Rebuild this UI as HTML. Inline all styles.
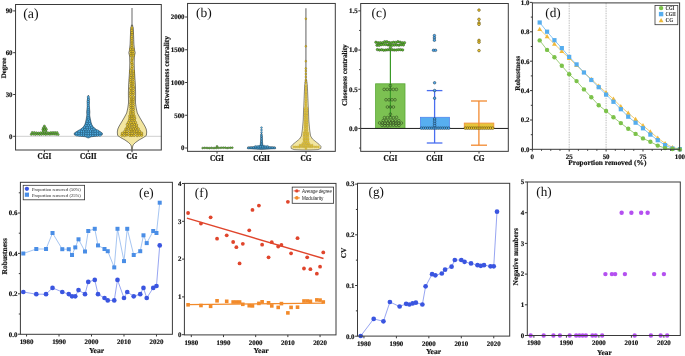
<!DOCTYPE html>
<html><head><meta charset="utf-8"><style>
html,body{margin:0;padding:0;background:#fff;}
body{width:685px;height:356px;overflow:hidden;font-family:"Liberation Serif",serif;}
svg{display:block;}
</style></head><body>
<div style="will-change:transform"><svg xmlns="http://www.w3.org/2000/svg" width="685" height="356" viewBox="0 0 685 356" font-family="Liberation Serif">
<rect width="685" height="356" fill="#fff"/>
<line x1="15.55" y1="136.30" x2="161.30" y2="136.30" stroke="#cfcfcf" stroke-width="1.0" />
<g fill="#6cc83c" stroke="#1a2a10" stroke-width="0.38"><circle cx="31.20" cy="134.33" r="1.05"/><circle cx="33.28" cy="134.26" r="1.05"/><circle cx="35.36" cy="134.46" r="1.05"/><circle cx="37.44" cy="134.23" r="1.05"/><circle cx="39.52" cy="134.41" r="1.05"/><circle cx="41.60" cy="134.35" r="1.05"/><circle cx="43.68" cy="134.22" r="1.05"/><circle cx="45.76" cy="134.40" r="1.05"/><circle cx="47.84" cy="134.21" r="1.05"/><circle cx="49.92" cy="134.37" r="1.05"/><circle cx="52.00" cy="134.23" r="1.05"/><circle cx="54.08" cy="134.24" r="1.05"/><circle cx="56.16" cy="134.37" r="1.05"/><circle cx="58.24" cy="134.53" r="1.05"/><circle cx="32.20" cy="132.47" r="1.05"/><circle cx="34.28" cy="132.53" r="1.05"/><circle cx="36.36" cy="132.78" r="1.05"/><circle cx="38.44" cy="132.97" r="1.05"/><circle cx="40.52" cy="132.75" r="1.05"/><circle cx="42.60" cy="132.64" r="1.05"/><circle cx="44.68" cy="132.99" r="1.05"/><circle cx="46.76" cy="132.43" r="1.05"/><circle cx="48.84" cy="132.92" r="1.05"/><circle cx="50.92" cy="132.57" r="1.05"/><circle cx="53.00" cy="132.49" r="1.05"/><circle cx="55.08" cy="132.47" r="1.05"/><circle cx="57.16" cy="132.59" r="1.05"/><circle cx="44.40" cy="126.00" r="1.05"/><circle cx="43.40" cy="127.70" r="1.05"/><circle cx="45.40" cy="127.70" r="1.05"/><circle cx="42.80" cy="129.40" r="1.05"/><circle cx="44.60" cy="129.40" r="1.05"/><circle cx="46.40" cy="129.40" r="1.05"/><circle cx="43.20" cy="131.00" r="1.05"/><circle cx="45.60" cy="131.00" r="1.05"/></g>
<path d="M88.60,95.50 L88.80,97.00 L89.20,99.00 L89.40,102.00 L89.20,105.00 L89.60,109.00 L89.90,112.00 L89.70,115.00 L90.40,119.00 L91.00,122.00 L91.80,124.50 L92.80,126.30 L94.30,128.00 L96.90,129.80 L100.10,131.50 L102.50,133.20 L102.20,135.00 L97.30,136.00 L91.30,136.80 L88.60,138.00 L88.00,138.00 L85.30,136.80 L79.30,136.00 L74.40,135.00 L74.10,133.20 L76.50,131.50 L79.70,129.80 L82.30,128.00 L83.80,126.30 L84.80,124.50 L85.60,122.00 L86.20,119.00 L86.90,115.00 L86.70,112.00 L87.00,109.00 L87.40,105.00 L87.20,102.00 L87.40,99.00 L87.80,97.00 L88.00,95.50 Z" fill="#3c94c8" stroke="#13202a" stroke-width="0.45" stroke-linejoin="round"/>
<g fill="#56b8f0" stroke="#0c2536" stroke-width="0.32"><circle cx="76.93" cy="135.07" r="1.15"/><circle cx="79.13" cy="135.26" r="1.15"/><circle cx="81.35" cy="135.22" r="1.15"/><circle cx="83.53" cy="135.02" r="1.15"/><circle cx="85.88" cy="135.27" r="1.15"/><circle cx="88.27" cy="135.13" r="1.15"/><circle cx="90.63" cy="135.18" r="1.15"/><circle cx="92.82" cy="135.32" r="1.15"/><circle cx="95.28" cy="135.10" r="1.15"/><circle cx="97.53" cy="135.21" r="1.15"/><circle cx="99.95" cy="135.29" r="1.15"/><circle cx="76.72" cy="133.39" r="1.15"/><circle cx="78.95" cy="133.17" r="1.15"/><circle cx="81.50" cy="133.06" r="1.15"/><circle cx="83.70" cy="133.02" r="1.15"/><circle cx="86.07" cy="133.31" r="1.15"/><circle cx="88.33" cy="133.35" r="1.15"/><circle cx="90.53" cy="133.28" r="1.15"/><circle cx="92.94" cy="133.23" r="1.15"/><circle cx="95.18" cy="133.34" r="1.15"/><circle cx="97.68" cy="133.19" r="1.15"/><circle cx="99.87" cy="133.02" r="1.15"/><circle cx="79.18" cy="131.26" r="1.15"/><circle cx="81.60" cy="131.33" r="1.15"/><circle cx="83.61" cy="131.15" r="1.15"/><circle cx="86.07" cy="131.01" r="1.15"/><circle cx="88.28" cy="131.07" r="1.15"/><circle cx="90.45" cy="131.02" r="1.15"/><circle cx="93.01" cy="131.05" r="1.15"/><circle cx="95.10" cy="131.16" r="1.15"/><circle cx="97.65" cy="131.03" r="1.15"/><circle cx="82.53" cy="129.22" r="1.15"/><circle cx="85.00" cy="129.33" r="1.15"/><circle cx="87.30" cy="129.11" r="1.15"/><circle cx="89.42" cy="129.14" r="1.15"/><circle cx="91.90" cy="129.38" r="1.15"/><circle cx="93.91" cy="129.07" r="1.15"/><circle cx="84.74" cy="127.09" r="1.15"/><circle cx="87.14" cy="127.24" r="1.15"/><circle cx="89.36" cy="127.00" r="1.15"/><circle cx="91.72" cy="127.15" r="1.15"/><circle cx="86.03" cy="125.38" r="1.15"/><circle cx="88.38" cy="125.21" r="1.15"/><circle cx="90.65" cy="125.27" r="1.15"/><circle cx="86.97" cy="123.36" r="1.15"/><circle cx="89.56" cy="123.35" r="1.15"/><circle cx="87.27" cy="121.16" r="1.15"/><circle cx="89.41" cy="121.04" r="1.15"/><circle cx="88.35" cy="119.02" r="1.15"/><circle cx="88.13" cy="117.08" r="1.15"/><circle cx="88.16" cy="115.14" r="1.15"/><circle cx="88.12" cy="113.00" r="1.15"/><circle cx="88.16" cy="111.04" r="1.15"/><circle cx="88.25" cy="109.01" r="1.15"/><circle cx="88.45" cy="107.25" r="1.15"/><circle cx="88.16" cy="105.10" r="1.15"/><circle cx="88.24" cy="103.15" r="1.15"/><circle cx="88.15" cy="101.34" r="1.15"/><circle cx="88.50" cy="99.19" r="1.15"/><circle cx="88.29" cy="97.03" r="1.15"/></g>
<line x1="132.00" y1="8.00" x2="132.00" y2="26.00" stroke="#8a8a8a" stroke-width="1.3" />
<path d="M132.50,25.00 L133.30,29.00 L133.60,36.00 L133.90,44.00 L134.50,50.00 L135.20,52.80 L134.40,56.00 L134.20,63.00 L134.40,70.00 L134.90,78.00 L135.40,85.00 L135.60,93.00 L135.50,103.00 L136.20,108.00 L137.30,113.00 L140.00,118.00 L143.00,123.00 L144.80,126.00 L146.20,129.00 L146.70,132.00 L146.40,135.40 L143.50,137.50 L139.00,140.00 L135.50,142.50 L133.50,144.50 L132.70,146.00 L132.35,149.50 L131.65,149.50 L131.30,146.00 L130.50,144.50 L128.50,142.50 L125.00,140.00 L120.50,137.50 L117.60,135.40 L117.30,132.00 L117.80,129.00 L119.20,126.00 L121.00,123.00 L124.00,118.00 L126.70,113.00 L127.80,108.00 L128.50,103.00 L128.40,93.00 L128.60,85.00 L129.10,78.00 L129.60,70.00 L129.80,63.00 L129.60,56.00 L128.80,52.80 L129.50,50.00 L130.10,44.00 L130.40,36.00 L130.70,29.00 L131.50,25.00 Z" fill="#f3e6a0" stroke="#2a2a2a" stroke-width="0.6" stroke-linejoin="round"/>
<g fill="#e8c830" stroke="#3a3005" stroke-width="0.34"><circle cx="121.96" cy="135.31" r="1.2"/><circle cx="124.51" cy="135.60" r="1.2"/><circle cx="126.90" cy="135.11" r="1.2"/><circle cx="129.82" cy="135.42" r="1.2"/><circle cx="131.79" cy="135.43" r="1.2"/><circle cx="134.17" cy="135.42" r="1.2"/><circle cx="137.19" cy="135.62" r="1.2"/><circle cx="139.47" cy="135.26" r="1.2"/><circle cx="141.72" cy="135.20" r="1.2"/><circle cx="122.36" cy="133.27" r="1.2"/><circle cx="124.82" cy="133.15" r="1.2"/><circle cx="126.93" cy="133.44" r="1.2"/><circle cx="129.84" cy="133.46" r="1.2"/><circle cx="132.18" cy="133.44" r="1.2"/><circle cx="134.59" cy="133.09" r="1.2"/><circle cx="136.91" cy="133.16" r="1.2"/><circle cx="139.07" cy="132.97" r="1.2"/><circle cx="141.67" cy="133.11" r="1.2"/><circle cx="124.77" cy="131.37" r="1.2"/><circle cx="127.07" cy="131.36" r="1.2"/><circle cx="129.84" cy="131.37" r="1.2"/><circle cx="131.92" cy="130.93" r="1.2"/><circle cx="134.29" cy="130.92" r="1.2"/><circle cx="136.72" cy="131.17" r="1.2"/><circle cx="139.59" cy="131.30" r="1.2"/><circle cx="125.86" cy="129.04" r="1.2"/><circle cx="128.50" cy="128.70" r="1.2"/><circle cx="130.87" cy="129.20" r="1.2"/><circle cx="133.39" cy="129.10" r="1.2"/><circle cx="135.66" cy="128.76" r="1.2"/><circle cx="138.30" cy="128.85" r="1.2"/><circle cx="127.28" cy="127.08" r="1.2"/><circle cx="129.49" cy="126.74" r="1.2"/><circle cx="132.27" cy="126.93" r="1.2"/><circle cx="134.25" cy="126.58" r="1.2"/><circle cx="136.69" cy="127.04" r="1.2"/><circle cx="127.28" cy="124.44" r="1.2"/><circle cx="129.75" cy="124.94" r="1.2"/><circle cx="132.09" cy="124.56" r="1.2"/><circle cx="134.48" cy="124.43" r="1.2"/><circle cx="136.61" cy="124.93" r="1.2"/><circle cx="128.41" cy="122.52" r="1.2"/><circle cx="131.04" cy="122.46" r="1.2"/><circle cx="133.45" cy="122.70" r="1.2"/><circle cx="135.50" cy="122.35" r="1.2"/><circle cx="129.43" cy="120.19" r="1.2"/><circle cx="132.05" cy="120.21" r="1.2"/><circle cx="134.40" cy="120.13" r="1.2"/><circle cx="129.80" cy="118.11" r="1.2"/><circle cx="131.97" cy="118.25" r="1.2"/><circle cx="134.69" cy="118.15" r="1.2"/><circle cx="129.80" cy="116.05" r="1.2"/><circle cx="132.02" cy="116.06" r="1.2"/><circle cx="134.16" cy="116.01" r="1.2"/><circle cx="130.58" cy="113.60" r="1.2"/><circle cx="133.40" cy="113.70" r="1.2"/><circle cx="130.76" cy="111.89" r="1.2"/><circle cx="133.26" cy="111.65" r="1.2"/><circle cx="130.79" cy="109.63" r="1.2"/><circle cx="133.40" cy="109.36" r="1.2"/><circle cx="130.81" cy="107.30" r="1.2"/><circle cx="133.09" cy="107.61" r="1.2"/><circle cx="130.78" cy="105.34" r="1.2"/><circle cx="133.38" cy="105.55" r="1.2"/><circle cx="130.74" cy="103.22" r="1.2"/><circle cx="133.23" cy="103.16" r="1.2"/><circle cx="130.89" cy="100.97" r="1.2"/><circle cx="133.24" cy="100.99" r="1.2"/><circle cx="131.04" cy="98.97" r="1.2"/><circle cx="133.45" cy="99.12" r="1.2"/><circle cx="130.63" cy="96.74" r="1.2"/><circle cx="133.49" cy="96.90" r="1.2"/><circle cx="130.56" cy="94.32" r="1.2"/><circle cx="133.19" cy="94.29" r="1.2"/><circle cx="130.62" cy="92.14" r="1.2"/><circle cx="133.33" cy="92.57" r="1.2"/><circle cx="131.01" cy="90.04" r="1.2"/><circle cx="133.35" cy="90.35" r="1.2"/><circle cx="130.56" cy="88.33" r="1.2"/><circle cx="133.51" cy="87.93" r="1.2"/><circle cx="131.05" cy="85.89" r="1.2"/><circle cx="133.22" cy="86.24" r="1.2"/><circle cx="130.97" cy="83.60" r="1.2"/><circle cx="133.18" cy="83.81" r="1.2"/><circle cx="130.68" cy="81.47" r="1.2"/><circle cx="133.12" cy="81.78" r="1.2"/><circle cx="130.49" cy="79.53" r="1.2"/><circle cx="133.19" cy="79.21" r="1.2"/><circle cx="130.67" cy="77.42" r="1.2"/><circle cx="133.23" cy="77.09" r="1.2"/><circle cx="131.07" cy="75.37" r="1.2"/><circle cx="133.51" cy="74.96" r="1.2"/><circle cx="130.63" cy="72.77" r="1.2"/><circle cx="133.39" cy="72.91" r="1.2"/><circle cx="130.55" cy="70.85" r="1.2"/><circle cx="133.47" cy="71.09" r="1.2"/><circle cx="131.86" cy="68.54" r="1.2"/><circle cx="132.25" cy="66.64" r="1.2"/><circle cx="132.12" cy="64.20" r="1.2"/><circle cx="131.73" cy="62.41" r="1.2"/><circle cx="131.96" cy="59.89" r="1.2"/><circle cx="132.26" cy="58.08" r="1.2"/><circle cx="130.96" cy="55.60" r="1.2"/><circle cx="133.44" cy="55.59" r="1.2"/><circle cx="130.99" cy="53.67" r="1.2"/><circle cx="133.13" cy="53.73" r="1.2"/><circle cx="131.03" cy="51.41" r="1.2"/><circle cx="133.00" cy="51.57" r="1.2"/><circle cx="130.62" cy="49.17" r="1.2"/><circle cx="133.02" cy="49.13" r="1.2"/><circle cx="131.82" cy="47.14" r="1.2"/><circle cx="131.88" cy="45.26" r="1.2"/><circle cx="131.87" cy="42.95" r="1.2"/><circle cx="131.81" cy="40.71" r="1.2"/><circle cx="131.71" cy="38.50" r="1.2"/><circle cx="131.71" cy="36.64" r="1.2"/><circle cx="132.03" cy="34.16" r="1.2"/><circle cx="131.98" cy="32.46" r="1.2"/><circle cx="131.76" cy="30.24" r="1.2"/><circle cx="131.96" cy="27.90" r="1.2"/></g>
<rect x="15.55" y="4.50" width="145.75" height="145.50" fill="none" stroke="#3a3a3a" stroke-width="1.0"/>
<line x1="13.15" y1="136.30" x2="15.55" y2="136.30" stroke="#3a3a3a" stroke-width="1.0" />
<text x="12.55" y="138.65" font-size="6.9" text-anchor="end" font-weight="bold" fill="#111" stroke="#111" stroke-width="0.18" text-rendering="geometricPrecision">0</text>
<line x1="13.15" y1="94.50" x2="15.55" y2="94.50" stroke="#3a3a3a" stroke-width="1.0" />
<text x="12.55" y="96.85" font-size="6.9" text-anchor="end" font-weight="bold" fill="#111" stroke="#111" stroke-width="0.18" text-rendering="geometricPrecision">30</text>
<line x1="13.15" y1="52.70" x2="15.55" y2="52.70" stroke="#3a3a3a" stroke-width="1.0" />
<text x="12.55" y="55.05" font-size="6.9" text-anchor="end" font-weight="bold" fill="#111" stroke="#111" stroke-width="0.18" text-rendering="geometricPrecision">60</text>
<line x1="13.15" y1="10.90" x2="15.55" y2="10.90" stroke="#3a3a3a" stroke-width="1.0" />
<text x="12.55" y="13.25" font-size="6.9" text-anchor="end" font-weight="bold" fill="#111" stroke="#111" stroke-width="0.18" text-rendering="geometricPrecision">90</text>
<line x1="44.40" y1="150.00" x2="44.40" y2="152.20" stroke="#3a3a3a" stroke-width="1.0" />
<text x="44.40" y="159.00" font-size="7.21" text-anchor="middle" font-weight="bold" fill="#111" textLength="13.60" lengthAdjust="spacingAndGlyphs" stroke="#111" stroke-width="0.22">CGI</text>
<line x1="88.30" y1="150.00" x2="88.30" y2="152.20" stroke="#3a3a3a" stroke-width="1.0" />
<text x="88.30" y="159.00" font-size="7.21" text-anchor="middle" font-weight="bold" fill="#111" textLength="16.40" lengthAdjust="spacingAndGlyphs" stroke="#111" stroke-width="0.22">CGII</text>
<line x1="132.00" y1="150.00" x2="132.00" y2="152.20" stroke="#3a3a3a" stroke-width="1.0" />
<text x="132.00" y="159.00" font-size="7.21" text-anchor="middle" font-weight="bold" fill="#111" textLength="10.80" lengthAdjust="spacingAndGlyphs" stroke="#111" stroke-width="0.22">CG</text>
<text x="0" y="0" transform="translate(5.60,68.00) rotate(-90)" font-size="6.9" text-anchor="middle" font-weight="bold" fill="#111" stroke="#111" stroke-width="0.18" text-rendering="geometricPrecision">Degree</text>
<text x="23.20" y="18.10" font-size="13.9" text-anchor="start" font-weight="normal" fill="#111" text-rendering="geometricPrecision"  >(a)</text>
<g fill="#6cc83c" stroke="#1a2a10" stroke-width="0.4"><circle cx="202.60" cy="148.07" r="0.9"/><circle cx="204.35" cy="147.85" r="0.9"/><circle cx="206.10" cy="147.90" r="0.9"/><circle cx="207.85" cy="147.99" r="0.9"/><circle cx="209.60" cy="148.14" r="0.9"/><circle cx="211.35" cy="147.82" r="0.9"/><circle cx="213.10" cy="148.07" r="0.9"/><circle cx="214.85" cy="148.00" r="0.9"/><circle cx="216.60" cy="147.97" r="0.9"/><circle cx="218.35" cy="147.85" r="0.9"/><circle cx="220.10" cy="147.82" r="0.9"/><circle cx="221.85" cy="147.68" r="0.9"/><circle cx="223.60" cy="147.71" r="0.9"/><circle cx="225.35" cy="147.69" r="0.9"/><circle cx="227.10" cy="148.02" r="0.9"/><circle cx="228.85" cy="147.78" r="0.9"/><circle cx="230.60" cy="147.73" r="0.9"/><circle cx="232.35" cy="147.69" r="0.9"/><circle cx="217.00" cy="146.30" r="0.9"/></g>
<path d="M262.00,133.50 L262.30,136.00 L262.40,140.00 L262.60,143.00 L263.00,145.60 L265.50,146.50 L275.30,146.90 L275.70,148.70 L266.50,149.20 L261.90,149.50 L261.10,149.50 L256.50,149.20 L247.30,148.70 L247.70,146.90 L257.50,146.50 L260.00,145.60 L260.40,143.00 L260.60,140.00 L260.70,136.00 L261.00,133.50 Z" fill="#2f7fae" stroke="#13202a" stroke-width="0.4" stroke-linejoin="round"/>
<g fill="#56b8f0" stroke="#0c2536" stroke-width="0.3"><circle cx="248.48" cy="147.91" r="0.85"/><circle cx="250.18" cy="147.73" r="0.85"/><circle cx="251.80" cy="147.74" r="0.85"/><circle cx="253.61" cy="147.70" r="0.85"/><circle cx="255.36" cy="147.73" r="0.85"/><circle cx="257.26" cy="147.94" r="0.85"/><circle cx="258.89" cy="147.72" r="0.85"/><circle cx="260.76" cy="147.74" r="0.85"/><circle cx="262.33" cy="147.65" r="0.85"/><circle cx="264.09" cy="147.79" r="0.85"/><circle cx="265.88" cy="147.71" r="0.85"/><circle cx="267.63" cy="147.65" r="0.85"/><circle cx="269.30" cy="147.68" r="0.85"/><circle cx="271.09" cy="147.66" r="0.85"/><circle cx="272.73" cy="147.74" r="0.85"/><circle cx="274.54" cy="147.83" r="0.85"/><circle cx="255.38" cy="146.28" r="0.85"/><circle cx="257.17" cy="146.26" r="0.85"/><circle cx="258.99" cy="146.17" r="0.85"/><circle cx="260.57" cy="146.35" r="0.85"/><circle cx="262.27" cy="146.27" r="0.85"/><circle cx="264.17" cy="146.06" r="0.85"/><circle cx="265.98" cy="146.32" r="0.85"/><circle cx="267.66" cy="146.27" r="0.85"/><circle cx="261.59" cy="144.49" r="0.85"/><circle cx="261.51" cy="143.00" r="0.85"/><circle cx="261.60" cy="141.49" r="0.85"/><circle cx="261.60" cy="139.83" r="0.85"/><circle cx="261.62" cy="138.25" r="0.85"/><circle cx="261.56" cy="136.52" r="0.85"/><circle cx="261.36" cy="134.89" r="0.85"/></g>
<circle cx="261.5" cy="127.6" r="0.9" fill="#56b8f0" stroke="#0c2536" stroke-width="0.35"/>
<circle cx="261.5" cy="130.0" r="0.9" fill="#56b8f0" stroke="#0c2536" stroke-width="0.35"/>
<circle cx="261.5" cy="132.3" r="0.9" fill="#56b8f0" stroke="#0c2536" stroke-width="0.35"/>
<line x1="305.90" y1="8.30" x2="305.90" y2="81.00" stroke="#8e8e8e" stroke-width="1.4" />
<path d="M306.60,80.00 L307.30,85.00 L308.00,100.00 L308.50,112.00 L308.80,120.00 L309.70,130.00 L310.60,136.00 L312.50,139.00 L316.20,142.00 L319.30,144.50 L321.00,146.50 L320.80,148.50 L318.00,149.60 L310.00,150.00 L302.00,150.00 L294.00,149.60 L291.20,148.50 L291.00,146.50 L292.70,144.50 L295.80,142.00 L299.50,139.00 L301.40,136.00 L302.30,130.00 L303.20,120.00 L303.50,112.00 L304.00,100.00 L304.70,85.00 L305.40,80.00 Z" fill="#f3e6a0" stroke="#3a3a3a" stroke-width="0.55" stroke-linejoin="round"/>
<g fill="#f2d03a" stroke="#5a4a08" stroke-width="0.2"><circle cx="305.96" cy="148.48" r="0.95"/><circle cx="293.80" cy="146.87" r="0.95"/><circle cx="295.79" cy="146.89" r="0.95"/><circle cx="297.85" cy="146.85" r="0.95"/><circle cx="299.70" cy="146.94" r="0.95"/><circle cx="301.97" cy="146.85" r="0.95"/><circle cx="303.96" cy="146.90" r="0.95"/><circle cx="305.87" cy="146.92" r="0.95"/><circle cx="307.98" cy="146.72" r="0.95"/><circle cx="310.03" cy="146.92" r="0.95"/><circle cx="312.06" cy="146.92" r="0.95"/><circle cx="314.34" cy="146.85" r="0.95"/><circle cx="316.21" cy="146.84" r="0.95"/><circle cx="318.36" cy="146.93" r="0.95"/><circle cx="299.89" cy="145.14" r="0.95"/><circle cx="301.77" cy="144.99" r="0.95"/><circle cx="303.88" cy="145.17" r="0.95"/><circle cx="305.94" cy="145.12" r="0.95"/><circle cx="307.90" cy="144.97" r="0.95"/><circle cx="310.03" cy="145.15" r="0.95"/><circle cx="312.21" cy="145.15" r="0.95"/><circle cx="302.86" cy="143.35" r="0.95"/><circle cx="304.96" cy="143.34" r="0.95"/><circle cx="306.91" cy="143.47" r="0.95"/><circle cx="308.98" cy="143.49" r="0.95"/><circle cx="304.08" cy="141.46" r="0.95"/><circle cx="305.99" cy="141.70" r="0.95"/><circle cx="308.19" cy="141.58" r="0.95"/><circle cx="303.88" cy="139.76" r="0.95"/><circle cx="306.13" cy="139.76" r="0.95"/><circle cx="308.07" cy="139.74" r="0.95"/><circle cx="303.96" cy="138.24" r="0.95"/><circle cx="305.89" cy="138.20" r="0.95"/><circle cx="308.05" cy="138.22" r="0.95"/><circle cx="304.01" cy="136.27" r="0.95"/><circle cx="306.12" cy="136.35" r="0.95"/><circle cx="307.91" cy="136.20" r="0.95"/><circle cx="303.95" cy="134.59" r="0.95"/><circle cx="305.94" cy="134.49" r="0.95"/><circle cx="308.00" cy="134.54" r="0.95"/><circle cx="304.05" cy="132.70" r="0.95"/><circle cx="306.08" cy="132.95" r="0.95"/><circle cx="307.94" cy="132.98" r="0.95"/><circle cx="305.04" cy="131.22" r="0.95"/><circle cx="306.96" cy="131.06" r="0.95"/><circle cx="304.94" cy="129.50" r="0.95"/><circle cx="307.05" cy="129.31" r="0.95"/><circle cx="304.95" cy="127.53" r="0.95"/><circle cx="306.89" cy="127.48" r="0.95"/><circle cx="305.08" cy="125.79" r="0.95"/><circle cx="307.16" cy="125.77" r="0.95"/><circle cx="304.90" cy="124.10" r="0.95"/><circle cx="306.93" cy="124.06" r="0.95"/><circle cx="305.11" cy="122.47" r="0.95"/><circle cx="307.12" cy="122.39" r="0.95"/><circle cx="305.10" cy="120.73" r="0.95"/><circle cx="307.04" cy="120.67" r="0.95"/><circle cx="304.84" cy="118.92" r="0.95"/><circle cx="307.01" cy="118.93" r="0.95"/><circle cx="305.02" cy="117.04" r="0.95"/><circle cx="306.89" cy="117.23" r="0.95"/><circle cx="304.86" cy="115.34" r="0.95"/><circle cx="306.98" cy="115.29" r="0.95"/><circle cx="305.05" cy="113.74" r="0.95"/><circle cx="306.95" cy="113.65" r="0.95"/><circle cx="304.92" cy="111.87" r="0.95"/><circle cx="306.99" cy="111.75" r="0.95"/><circle cx="304.87" cy="110.01" r="0.95"/><circle cx="307.15" cy="110.10" r="0.95"/><circle cx="304.89" cy="108.47" r="0.95"/><circle cx="307.17" cy="108.33" r="0.95"/><circle cx="305.89" cy="106.51" r="0.95"/><circle cx="305.88" cy="104.80" r="0.95"/><circle cx="305.88" cy="103.02" r="0.95"/><circle cx="305.93" cy="101.37" r="0.95"/><circle cx="306.12" cy="99.67" r="0.95"/><circle cx="305.97" cy="97.82" r="0.95"/><circle cx="306.01" cy="96.06" r="0.95"/><circle cx="305.95" cy="94.22" r="0.95"/><circle cx="305.93" cy="92.74" r="0.95"/><circle cx="305.89" cy="90.85" r="0.95"/><circle cx="306.04" cy="89.21" r="0.95"/><circle cx="305.91" cy="87.28" r="0.95"/><circle cx="305.92" cy="85.57" r="0.95"/></g>
<circle cx="305.8" cy="18.8" r="0.95" fill="#e2bf22" stroke="#5a4806" stroke-width="0.28"/>
<circle cx="305.8" cy="46.3" r="0.95" fill="#e2bf22" stroke="#5a4806" stroke-width="0.28"/>
<circle cx="305.8" cy="61.2" r="0.95" fill="#e2bf22" stroke="#5a4806" stroke-width="0.28"/>
<circle cx="305.8" cy="68.5" r="0.95" fill="#e2bf22" stroke="#5a4806" stroke-width="0.28"/>
<circle cx="305.8" cy="71" r="0.95" fill="#e2bf22" stroke="#5a4806" stroke-width="0.28"/>
<circle cx="305.8" cy="74" r="0.95" fill="#e2bf22" stroke="#5a4806" stroke-width="0.28"/>
<circle cx="305.8" cy="77" r="0.95" fill="#e2bf22" stroke="#5a4806" stroke-width="0.28"/>
<circle cx="305.8" cy="80" r="0.95" fill="#e2bf22" stroke="#5a4806" stroke-width="0.28"/>
<circle cx="305.8" cy="82.5" r="0.95" fill="#e2bf22" stroke="#5a4806" stroke-width="0.28"/>
<rect x="187.55" y="3.45" width="147.75" height="147.90" fill="none" stroke="#3a3a3a" stroke-width="1.0"/>
<line x1="185.15" y1="148.00" x2="187.55" y2="148.00" stroke="#3a3a3a" stroke-width="1.0" />
<text x="184.55" y="150.35" font-size="6.9" text-anchor="end" font-weight="bold" fill="#111" stroke="#111" stroke-width="0.18" text-rendering="geometricPrecision">0</text>
<line x1="185.15" y1="115.25" x2="187.55" y2="115.25" stroke="#3a3a3a" stroke-width="1.0" />
<text x="184.55" y="117.60" font-size="6.9" text-anchor="end" font-weight="bold" fill="#111" stroke="#111" stroke-width="0.18" text-rendering="geometricPrecision">500</text>
<line x1="185.15" y1="82.50" x2="187.55" y2="82.50" stroke="#3a3a3a" stroke-width="1.0" />
<text x="184.55" y="84.85" font-size="6.9" text-anchor="end" font-weight="bold" fill="#111" stroke="#111" stroke-width="0.18" text-rendering="geometricPrecision">1000</text>
<line x1="185.15" y1="49.75" x2="187.55" y2="49.75" stroke="#3a3a3a" stroke-width="1.0" />
<text x="184.55" y="52.10" font-size="6.9" text-anchor="end" font-weight="bold" fill="#111" stroke="#111" stroke-width="0.18" text-rendering="geometricPrecision">1500</text>
<line x1="185.15" y1="17.00" x2="187.55" y2="17.00" stroke="#3a3a3a" stroke-width="1.0" />
<text x="184.55" y="19.35" font-size="6.9" text-anchor="end" font-weight="bold" fill="#111" stroke="#111" stroke-width="0.18" text-rendering="geometricPrecision">2000</text>
<line x1="217.00" y1="151.35" x2="217.00" y2="153.55" stroke="#3a3a3a" stroke-width="1.0" />
<text x="217.00" y="161.05" font-size="7.74" text-anchor="middle" font-weight="bold" fill="#111" textLength="13.79" lengthAdjust="spacingAndGlyphs" stroke="#111" stroke-width="0.22">CGI</text>
<line x1="261.50" y1="151.35" x2="261.50" y2="153.55" stroke="#3a3a3a" stroke-width="1.0" />
<text x="261.50" y="161.05" font-size="7.74" text-anchor="middle" font-weight="bold" fill="#111" textLength="16.63" lengthAdjust="spacingAndGlyphs" stroke="#111" stroke-width="0.22">CGII</text>
<line x1="306.00" y1="151.35" x2="306.00" y2="153.55" stroke="#3a3a3a" stroke-width="1.0" />
<text x="306.00" y="161.05" font-size="7.74" text-anchor="middle" font-weight="bold" fill="#111" textLength="10.95" lengthAdjust="spacingAndGlyphs" stroke="#111" stroke-width="0.22">CG</text>
<text x="0" y="0" transform="translate(168.80,72.50) rotate(-90)" font-size="7.5" text-anchor="middle" font-weight="bold" fill="#111" stroke="#111" stroke-width="0.18" text-rendering="geometricPrecision">Betweenness centrality</text>
<text x="196.10" y="17.30" font-size="13.5" text-anchor="start" font-weight="normal" fill="#111" text-rendering="geometricPrecision"  >(b)</text>
<rect x="375.6" y="83.8" width="29.4" height="44.65" fill="#7cc152" stroke="#5aa838" stroke-width="0.8"/>
<rect x="420.4" y="117.3" width="29.0" height="11.15" fill="#57aef0" stroke="#4f86ee" stroke-width="0.8"/>
<rect x="464.3" y="123.1" width="29.5" height="5.35" fill="#e6c43c" stroke="#f0923c" stroke-width="0.9"/>
<line x1="390.40" y1="51.00" x2="390.40" y2="117.00" stroke="#3a9a28" stroke-width="1.2" />
<line x1="434.60" y1="90.60" x2="434.60" y2="143.00" stroke="#4a6ef0" stroke-width="1.3" />
<line x1="426.80" y1="90.60" x2="442.40" y2="90.60" stroke="#4a6ef0" stroke-width="1.3" />
<line x1="426.80" y1="143.00" x2="442.40" y2="143.00" stroke="#4a6ef0" stroke-width="1.3" />
<line x1="478.90" y1="101.00" x2="478.90" y2="145.20" stroke="#f28a30" stroke-width="1.3" />
<line x1="471.00" y1="101.00" x2="487.00" y2="101.00" stroke="#f28a30" stroke-width="1.3" />
<line x1="471.00" y1="145.20" x2="487.00" y2="145.20" stroke="#f28a30" stroke-width="1.3" />
<line x1="360.70" y1="128.45" x2="508.30" y2="128.45" stroke="#1e1e1e" stroke-width="1.0" />
<g fill="#5cbd2e" stroke="#1c2a12" stroke-width="0.4"><circle cx="375.90" cy="42.24" r="1.25"/><circle cx="378.10" cy="42.84" r="1.25"/><circle cx="380.30" cy="42.72" r="1.25"/><circle cx="382.50" cy="42.75" r="1.25"/><circle cx="384.70" cy="41.73" r="1.25"/><circle cx="386.90" cy="41.74" r="1.25"/><circle cx="389.10" cy="42.55" r="1.25"/><circle cx="391.30" cy="42.77" r="1.25"/><circle cx="393.50" cy="42.27" r="1.25"/><circle cx="395.70" cy="42.40" r="1.25"/><circle cx="397.90" cy="41.70" r="1.25"/><circle cx="400.10" cy="42.17" r="1.25"/><circle cx="402.30" cy="42.81" r="1.25"/><circle cx="404.50" cy="42.69" r="1.25"/><circle cx="377.00" cy="45.26" r="1.25"/><circle cx="379.20" cy="45.37" r="1.25"/><circle cx="381.40" cy="44.65" r="1.25"/><circle cx="383.60" cy="44.51" r="1.25"/><circle cx="385.80" cy="44.55" r="1.25"/><circle cx="388.00" cy="44.92" r="1.25"/><circle cx="390.20" cy="45.08" r="1.25"/><circle cx="392.40" cy="45.34" r="1.25"/><circle cx="394.60" cy="45.12" r="1.25"/><circle cx="396.80" cy="45.05" r="1.25"/><circle cx="399.00" cy="45.16" r="1.25"/><circle cx="401.20" cy="44.86" r="1.25"/><circle cx="403.40" cy="44.95" r="1.25"/><circle cx="377.40" cy="49.62" r="1.25"/><circle cx="379.50" cy="50.07" r="1.25"/><circle cx="381.60" cy="49.74" r="1.25"/><circle cx="383.70" cy="50.15" r="1.25"/><circle cx="385.80" cy="49.99" r="1.25"/><circle cx="387.90" cy="49.78" r="1.25"/><circle cx="390.00" cy="49.68" r="1.25"/><circle cx="392.10" cy="49.75" r="1.25"/><circle cx="394.20" cy="49.98" r="1.25"/><circle cx="396.30" cy="50.02" r="1.25"/><circle cx="398.40" cy="49.67" r="1.25"/><circle cx="400.50" cy="49.64" r="1.25"/><circle cx="402.60" cy="49.91" r="1.25"/><circle cx="390.40" cy="47.40" r="1.25"/></g>
<g fill="none" stroke="#1c2a12" stroke-width="0.45"><circle cx="390.40" cy="85.60" r="1.35"/><circle cx="384.20" cy="89.40" r="1.35"/><circle cx="387.25" cy="89.40" r="1.35"/><circle cx="390.30" cy="89.40" r="1.35"/><circle cx="393.35" cy="89.40" r="1.35"/><circle cx="396.40" cy="89.40" r="1.35"/><circle cx="386.00" cy="99.80" r="1.35"/><circle cx="389.00" cy="99.80" r="1.35"/><circle cx="392.00" cy="99.80" r="1.35"/><circle cx="395.00" cy="99.80" r="1.35"/><circle cx="387.40" cy="107.00" r="1.35"/><circle cx="390.40" cy="107.00" r="1.35"/><circle cx="393.40" cy="107.00" r="1.35"/><circle cx="390.40" cy="114.20" r="1.35"/><circle cx="384.50" cy="117.65" r="1.35"/><circle cx="387.50" cy="117.53" r="1.35"/><circle cx="390.50" cy="117.43" r="1.35"/><circle cx="393.50" cy="117.66" r="1.35"/><circle cx="396.50" cy="117.31" r="1.35"/><circle cx="383.20" cy="120.58" r="1.35"/><circle cx="386.32" cy="120.68" r="1.35"/><circle cx="389.44" cy="120.98" r="1.35"/><circle cx="392.56" cy="120.79" r="1.35"/><circle cx="395.68" cy="120.93" r="1.35"/><circle cx="398.80" cy="120.69" r="1.35"/><circle cx="379.60" cy="122.94" r="1.35"/><circle cx="382.33" cy="122.95" r="1.35"/><circle cx="385.05" cy="123.38" r="1.35"/><circle cx="387.77" cy="123.22" r="1.35"/><circle cx="390.50" cy="122.98" r="1.35"/><circle cx="393.23" cy="122.81" r="1.35"/><circle cx="395.95" cy="123.10" r="1.35"/><circle cx="398.67" cy="123.20" r="1.35"/><circle cx="401.40" cy="123.05" r="1.35"/><circle cx="382.00" cy="125.35" r="1.35"/><circle cx="384.83" cy="125.60" r="1.35"/><circle cx="387.67" cy="125.76" r="1.35"/><circle cx="390.50" cy="125.34" r="1.35"/><circle cx="393.33" cy="125.22" r="1.35"/><circle cx="396.17" cy="125.40" r="1.35"/><circle cx="399.00" cy="125.45" r="1.35"/></g>
<g fill="#4eaaf0" stroke="#0e1c28" stroke-width="0.45"><circle cx="434.60" cy="82.80" r="1.3"/><circle cx="434.60" cy="90.50" r="1.3"/><circle cx="434.60" cy="98.20" r="1.3"/><circle cx="434.40" cy="35.60" r="1.3"/><circle cx="434.40" cy="37.90" r="1.3"/><circle cx="434.40" cy="40.20" r="1.3"/><circle cx="433.50" cy="50.30" r="1.3"/><circle cx="435.50" cy="50.30" r="1.3"/><circle cx="434.60" cy="119.00" r="1.3"/><circle cx="434.60" cy="121.30" r="1.3"/><circle cx="434.60" cy="123.50" r="1.3"/><circle cx="434.60" cy="125.60" r="1.3"/><circle cx="421.40" cy="128.15" r="1.3"/><circle cx="423.50" cy="128.15" r="1.3"/><circle cx="425.60" cy="128.15" r="1.3"/><circle cx="427.70" cy="128.15" r="1.3"/><circle cx="429.80" cy="128.15" r="1.3"/><circle cx="431.90" cy="128.15" r="1.3"/><circle cx="434.00" cy="128.15" r="1.3"/><circle cx="436.10" cy="128.15" r="1.3"/><circle cx="438.20" cy="128.15" r="1.3"/><circle cx="440.30" cy="128.15" r="1.3"/><circle cx="442.40" cy="128.15" r="1.3"/><circle cx="444.50" cy="128.15" r="1.3"/><circle cx="446.60" cy="128.15" r="1.3"/><circle cx="448.70" cy="128.15" r="1.3"/></g>
<g fill="#ecc52e" stroke="#3a3005" stroke-width="0.45"><circle cx="479.00" cy="10.10" r="1.35"/><circle cx="479.00" cy="19.30" r="1.35"/><circle cx="479.00" cy="22.90" r="1.35"/><circle cx="479.00" cy="24.30" r="1.35"/><circle cx="479.00" cy="40.40" r="1.35"/><circle cx="479.00" cy="42.20" r="1.35"/><circle cx="479.00" cy="50.60" r="1.35"/><circle cx="465.40" cy="128.15" r="1.35"/><circle cx="467.50" cy="128.15" r="1.35"/><circle cx="469.60" cy="128.15" r="1.35"/><circle cx="471.70" cy="128.15" r="1.35"/><circle cx="473.80" cy="128.15" r="1.35"/><circle cx="475.90" cy="128.15" r="1.35"/><circle cx="478.00" cy="128.15" r="1.35"/><circle cx="480.10" cy="128.15" r="1.35"/><circle cx="482.20" cy="128.15" r="1.35"/><circle cx="484.30" cy="128.15" r="1.35"/><circle cx="486.40" cy="128.15" r="1.35"/><circle cx="488.50" cy="128.15" r="1.35"/><circle cx="490.60" cy="128.15" r="1.35"/><circle cx="492.70" cy="128.15" r="1.35"/></g>
<rect x="360.70" y="3.50" width="147.60" height="147.85" fill="none" stroke="#3a3a3a" stroke-width="1.0"/>
<line x1="358.30" y1="128.45" x2="360.70" y2="128.45" stroke="#3a3a3a" stroke-width="1.0" />
<text x="357.70" y="130.80" font-size="6.9" text-anchor="end" font-weight="bold" fill="#111" stroke="#111" stroke-width="0.18" text-rendering="geometricPrecision">0.0</text>
<line x1="358.30" y1="89.25" x2="360.70" y2="89.25" stroke="#3a3a3a" stroke-width="1.0" />
<text x="357.70" y="91.60" font-size="6.9" text-anchor="end" font-weight="bold" fill="#111" stroke="#111" stroke-width="0.18" text-rendering="geometricPrecision">0.5</text>
<line x1="358.30" y1="50.05" x2="360.70" y2="50.05" stroke="#3a3a3a" stroke-width="1.0" />
<text x="357.70" y="52.40" font-size="6.9" text-anchor="end" font-weight="bold" fill="#111" stroke="#111" stroke-width="0.18" text-rendering="geometricPrecision">1.0</text>
<line x1="358.30" y1="10.85" x2="360.70" y2="10.85" stroke="#3a3a3a" stroke-width="1.0" />
<text x="357.70" y="13.20" font-size="6.9" text-anchor="end" font-weight="bold" fill="#111" stroke="#111" stroke-width="0.18" text-rendering="geometricPrecision">1.5</text>
<line x1="359.10" y1="148.05" x2="360.70" y2="148.05" stroke="#3a3a3a" stroke-width="1.0" />
<line x1="359.10" y1="108.85" x2="360.70" y2="108.85" stroke="#3a3a3a" stroke-width="1.0" />
<line x1="359.10" y1="69.65" x2="360.70" y2="69.65" stroke="#3a3a3a" stroke-width="1.0" />
<line x1="359.10" y1="30.45" x2="360.70" y2="30.45" stroke="#3a3a3a" stroke-width="1.0" />
<line x1="390.40" y1="151.35" x2="390.40" y2="153.55" stroke="#3a3a3a" stroke-width="1.0" />
<text x="390.40" y="161.15" font-size="7.74" text-anchor="middle" font-weight="bold" fill="#111" textLength="13.79" lengthAdjust="spacingAndGlyphs" stroke="#111" stroke-width="0.22">CGI</text>
<line x1="434.60" y1="151.35" x2="434.60" y2="153.55" stroke="#3a3a3a" stroke-width="1.0" />
<text x="434.60" y="161.15" font-size="7.74" text-anchor="middle" font-weight="bold" fill="#111" textLength="16.63" lengthAdjust="spacingAndGlyphs" stroke="#111" stroke-width="0.22">CGII</text>
<line x1="479.00" y1="151.35" x2="479.00" y2="153.55" stroke="#3a3a3a" stroke-width="1.0" />
<text x="479.00" y="161.15" font-size="7.74" text-anchor="middle" font-weight="bold" fill="#111" textLength="10.95" lengthAdjust="spacingAndGlyphs" stroke="#111" stroke-width="0.22">CG</text>
<text x="0" y="0" transform="translate(346.70,75.20) rotate(-90)" font-size="7.3" text-anchor="middle" font-weight="bold" fill="#111" stroke="#111" stroke-width="0.18" text-rendering="geometricPrecision">Closeness centrality</text>
<text x="371.60" y="17.00" font-size="13.3" text-anchor="start" font-weight="normal" fill="#111" text-rendering="geometricPrecision"  >(c)</text>
<line x1="569.19" y1="2.90" x2="569.19" y2="149.30" stroke="#555" stroke-width="0.5" stroke-dasharray="0.8,0.9"/>
<line x1="606.08" y1="2.90" x2="606.08" y2="149.30" stroke="#555" stroke-width="0.5" stroke-dasharray="0.8,0.9"/>
<polyline points="539.68,29.20 547.06,36.60 554.44,44.00 561.81,51.20 569.19,58.20 576.57,65.30 583.95,72.40 591.33,79.20 598.71,86.00 606.08,92.60 613.46,99.10 620.84,106.50 628.22,113.10 635.60,119.30 642.98,125.60 650.36,131.70 657.73,138.00 665.11,143.40 672.49,147.40 679.87,149.00" fill="none" stroke="#efc050" stroke-width="0.8"/>
<path d="M539.68,26.70 L542.08,30.90 L537.28,30.90 Z" fill="#f0b93a"/>
<path d="M547.06,34.10 L549.46,38.30 L544.66,38.30 Z" fill="#f0b93a"/>
<path d="M554.44,41.50 L556.84,45.70 L552.04,45.70 Z" fill="#f0b93a"/>
<path d="M561.81,48.70 L564.21,52.90 L559.41,52.90 Z" fill="#f0b93a"/>
<path d="M569.19,55.70 L571.59,59.90 L566.79,59.90 Z" fill="#f0b93a"/>
<path d="M576.57,62.80 L578.97,67.00 L574.17,67.00 Z" fill="#f0b93a"/>
<path d="M583.95,69.90 L586.35,74.10 L581.55,74.10 Z" fill="#f0b93a"/>
<path d="M591.33,76.70 L593.73,80.90 L588.93,80.90 Z" fill="#f0b93a"/>
<path d="M598.71,83.50 L601.11,87.70 L596.31,87.70 Z" fill="#f0b93a"/>
<path d="M606.08,90.10 L608.48,94.30 L603.68,94.30 Z" fill="#f0b93a"/>
<path d="M613.46,96.60 L615.86,100.80 L611.06,100.80 Z" fill="#f0b93a"/>
<path d="M620.84,104.00 L623.24,108.20 L618.44,108.20 Z" fill="#f0b93a"/>
<path d="M628.22,110.60 L630.62,114.80 L625.82,114.80 Z" fill="#f0b93a"/>
<path d="M635.60,116.80 L638.00,121.00 L633.20,121.00 Z" fill="#f0b93a"/>
<path d="M642.98,123.10 L645.38,127.30 L640.58,127.30 Z" fill="#f0b93a"/>
<path d="M650.36,129.20 L652.76,133.40 L647.96,133.40 Z" fill="#f0b93a"/>
<path d="M657.73,135.50 L660.13,139.70 L655.33,139.70 Z" fill="#f0b93a"/>
<path d="M665.11,140.90 L667.51,145.10 L662.71,145.10 Z" fill="#f0b93a"/>
<path d="M672.49,144.90 L674.89,149.10 L670.09,149.10 Z" fill="#f0b93a"/>
<path d="M679.87,146.50 L682.27,150.70 L677.47,150.70 Z" fill="#f0b93a"/>
<polyline points="539.68,22.50 547.06,31.70 554.44,40.20 561.81,48.10 569.19,56.90 576.57,64.40 583.95,72.50 591.33,80.00 598.71,87.20 606.08,94.60 613.46,101.80 620.84,109.20 628.22,116.70 635.60,122.70 642.98,128.30 650.36,134.60 657.73,140.20 665.11,145.20 672.49,148.50 679.87,149.20" fill="none" stroke="#6ab8f0" stroke-width="0.8"/>
<rect x="537.58" y="20.40" width="4.2" height="4.2" fill="#56adee"/>
<rect x="544.96" y="29.60" width="4.2" height="4.2" fill="#56adee"/>
<rect x="552.34" y="38.10" width="4.2" height="4.2" fill="#56adee"/>
<rect x="559.71" y="46.00" width="4.2" height="4.2" fill="#56adee"/>
<rect x="567.09" y="54.80" width="4.2" height="4.2" fill="#56adee"/>
<rect x="574.47" y="62.30" width="4.2" height="4.2" fill="#56adee"/>
<rect x="581.85" y="70.40" width="4.2" height="4.2" fill="#56adee"/>
<rect x="589.23" y="77.90" width="4.2" height="4.2" fill="#56adee"/>
<rect x="596.61" y="85.10" width="4.2" height="4.2" fill="#56adee"/>
<rect x="603.98" y="92.50" width="4.2" height="4.2" fill="#56adee"/>
<rect x="611.36" y="99.70" width="4.2" height="4.2" fill="#56adee"/>
<rect x="618.74" y="107.10" width="4.2" height="4.2" fill="#56adee"/>
<rect x="626.12" y="114.60" width="4.2" height="4.2" fill="#56adee"/>
<rect x="633.50" y="120.60" width="4.2" height="4.2" fill="#56adee"/>
<rect x="640.88" y="126.20" width="4.2" height="4.2" fill="#56adee"/>
<rect x="648.26" y="132.50" width="4.2" height="4.2" fill="#56adee"/>
<rect x="655.63" y="138.10" width="4.2" height="4.2" fill="#56adee"/>
<rect x="663.01" y="143.10" width="4.2" height="4.2" fill="#56adee"/>
<rect x="670.39" y="146.40" width="4.2" height="4.2" fill="#56adee"/>
<rect x="677.77" y="147.10" width="4.2" height="4.2" fill="#56adee"/>
<polyline points="539.68,40.40 547.06,49.90 554.44,57.20 561.81,65.80 569.19,74.30 576.57,81.10 583.95,89.40 591.33,97.30 598.71,105.20 606.08,111.00 613.46,117.30 620.84,123.10 628.22,128.80 635.60,133.90 642.98,138.40 650.36,141.80 657.73,145.60 665.11,148.10 672.49,149.00 679.87,149.40" fill="none" stroke="#86c25a" stroke-width="0.8"/>
<circle cx="539.68" cy="40.40" r="2.2" fill="#7cc24a"/>
<circle cx="547.06" cy="49.90" r="2.2" fill="#7cc24a"/>
<circle cx="554.44" cy="57.20" r="2.2" fill="#7cc24a"/>
<circle cx="561.81" cy="65.80" r="2.2" fill="#7cc24a"/>
<circle cx="569.19" cy="74.30" r="2.2" fill="#7cc24a"/>
<circle cx="576.57" cy="81.10" r="2.2" fill="#7cc24a"/>
<circle cx="583.95" cy="89.40" r="2.2" fill="#7cc24a"/>
<circle cx="591.33" cy="97.30" r="2.2" fill="#7cc24a"/>
<circle cx="598.71" cy="105.20" r="2.2" fill="#7cc24a"/>
<circle cx="606.08" cy="111.00" r="2.2" fill="#7cc24a"/>
<circle cx="613.46" cy="117.30" r="2.2" fill="#7cc24a"/>
<circle cx="620.84" cy="123.10" r="2.2" fill="#7cc24a"/>
<circle cx="628.22" cy="128.80" r="2.2" fill="#7cc24a"/>
<circle cx="635.60" cy="133.90" r="2.2" fill="#7cc24a"/>
<circle cx="642.98" cy="138.40" r="2.2" fill="#7cc24a"/>
<circle cx="650.36" cy="141.80" r="2.2" fill="#7cc24a"/>
<circle cx="657.73" cy="145.60" r="2.2" fill="#7cc24a"/>
<circle cx="665.11" cy="148.10" r="2.2" fill="#7cc24a"/>
<circle cx="672.49" cy="149.00" r="2.2" fill="#7cc24a"/>
<circle cx="679.87" cy="149.40" r="2.2" fill="#7cc24a"/>
<rect x="532.40" y="2.90" width="147.20" height="146.40" fill="none" stroke="#3a3a3a" stroke-width="1.0"/>
<line x1="530.00" y1="149.40" x2="532.40" y2="149.40" stroke="#3a3a3a" stroke-width="1.0" />
<text x="529.40" y="151.75" font-size="6.9" text-anchor="end" font-weight="bold" fill="#111" stroke="#111" stroke-width="0.18" text-rendering="geometricPrecision">0.0</text>
<line x1="530.00" y1="120.00" x2="532.40" y2="120.00" stroke="#3a3a3a" stroke-width="1.0" />
<text x="529.40" y="122.35" font-size="6.9" text-anchor="end" font-weight="bold" fill="#111" stroke="#111" stroke-width="0.18" text-rendering="geometricPrecision">0.2</text>
<line x1="530.00" y1="90.60" x2="532.40" y2="90.60" stroke="#3a3a3a" stroke-width="1.0" />
<text x="529.40" y="92.95" font-size="6.9" text-anchor="end" font-weight="bold" fill="#111" stroke="#111" stroke-width="0.18" text-rendering="geometricPrecision">0.4</text>
<line x1="530.00" y1="61.20" x2="532.40" y2="61.20" stroke="#3a3a3a" stroke-width="1.0" />
<text x="529.40" y="63.55" font-size="6.9" text-anchor="end" font-weight="bold" fill="#111" stroke="#111" stroke-width="0.18" text-rendering="geometricPrecision">0.6</text>
<line x1="530.00" y1="31.80" x2="532.40" y2="31.80" stroke="#3a3a3a" stroke-width="1.0" />
<text x="529.40" y="34.15" font-size="6.9" text-anchor="end" font-weight="bold" fill="#111" stroke="#111" stroke-width="0.18" text-rendering="geometricPrecision">0.8</text>
<line x1="530.00" y1="2.40" x2="532.40" y2="2.40" stroke="#3a3a3a" stroke-width="1.0" />
<text x="529.40" y="4.75" font-size="6.9" text-anchor="end" font-weight="bold" fill="#111" stroke="#111" stroke-width="0.18" text-rendering="geometricPrecision">1.0</text>
<line x1="530.80" y1="134.70" x2="532.40" y2="134.70" stroke="#3a3a3a" stroke-width="1.0" />
<line x1="530.80" y1="105.30" x2="532.40" y2="105.30" stroke="#3a3a3a" stroke-width="1.0" />
<line x1="530.80" y1="75.90" x2="532.40" y2="75.90" stroke="#3a3a3a" stroke-width="1.0" />
<line x1="530.80" y1="46.50" x2="532.40" y2="46.50" stroke="#3a3a3a" stroke-width="1.0" />
<line x1="530.80" y1="17.10" x2="532.40" y2="17.10" stroke="#3a3a3a" stroke-width="1.0" />
<line x1="532.30" y1="149.30" x2="532.30" y2="151.50" stroke="#3a3a3a" stroke-width="1.0" />
<text x="532.30" y="158.90" font-size="6.9" text-anchor="middle" font-weight="bold" fill="#111" stroke="#111" stroke-width="0.18" text-rendering="geometricPrecision">0</text>
<line x1="569.19" y1="149.30" x2="569.19" y2="151.50" stroke="#3a3a3a" stroke-width="1.0" />
<text x="569.19" y="158.90" font-size="6.9" text-anchor="middle" font-weight="bold" fill="#111" stroke="#111" stroke-width="0.18" text-rendering="geometricPrecision">25</text>
<line x1="606.08" y1="149.30" x2="606.08" y2="151.50" stroke="#3a3a3a" stroke-width="1.0" />
<text x="606.08" y="158.90" font-size="6.9" text-anchor="middle" font-weight="bold" fill="#111" stroke="#111" stroke-width="0.18" text-rendering="geometricPrecision">50</text>
<line x1="642.98" y1="149.30" x2="642.98" y2="151.50" stroke="#3a3a3a" stroke-width="1.0" />
<text x="642.98" y="158.90" font-size="6.9" text-anchor="middle" font-weight="bold" fill="#111" stroke="#111" stroke-width="0.18" text-rendering="geometricPrecision">75</text>
<line x1="679.87" y1="149.30" x2="679.87" y2="151.50" stroke="#3a3a3a" stroke-width="1.0" />
<text x="679.87" y="158.90" font-size="6.9" text-anchor="middle" font-weight="bold" fill="#111" stroke="#111" stroke-width="0.18" text-rendering="geometricPrecision">100</text>
<line x1="541.52" y1="149.30" x2="541.52" y2="150.80" stroke="#3a3a3a" stroke-width="1.0" />
<line x1="550.75" y1="149.30" x2="550.75" y2="150.80" stroke="#3a3a3a" stroke-width="1.0" />
<line x1="559.97" y1="149.30" x2="559.97" y2="150.80" stroke="#3a3a3a" stroke-width="1.0" />
<line x1="578.42" y1="149.30" x2="578.42" y2="150.80" stroke="#3a3a3a" stroke-width="1.0" />
<line x1="587.64" y1="149.30" x2="587.64" y2="150.80" stroke="#3a3a3a" stroke-width="1.0" />
<line x1="596.86" y1="149.30" x2="596.86" y2="150.80" stroke="#3a3a3a" stroke-width="1.0" />
<line x1="615.31" y1="149.30" x2="615.31" y2="150.80" stroke="#3a3a3a" stroke-width="1.0" />
<line x1="624.53" y1="149.30" x2="624.53" y2="150.80" stroke="#3a3a3a" stroke-width="1.0" />
<line x1="633.75" y1="149.30" x2="633.75" y2="150.80" stroke="#3a3a3a" stroke-width="1.0" />
<line x1="652.20" y1="149.30" x2="652.20" y2="150.80" stroke="#3a3a3a" stroke-width="1.0" />
<line x1="661.42" y1="149.30" x2="661.42" y2="150.80" stroke="#3a3a3a" stroke-width="1.0" />
<line x1="670.65" y1="149.30" x2="670.65" y2="150.80" stroke="#3a3a3a" stroke-width="1.0" />
<text x="0" y="0" transform="translate(519.50,73.30) rotate(-90)" font-size="7.2" text-anchor="middle" font-weight="bold" fill="#111" stroke="#111" stroke-width="0.18" text-rendering="geometricPrecision">Robustness</text>
<text x="607.30" y="165.40" font-size="7.4" text-anchor="middle" font-weight="bold" fill="#111" text-rendering="geometricPrecision"   stroke="#111" stroke-width="0.18">Proportion removed (%)</text>
<rect x="655.0" y="5.4" width="22.8" height="19.3" fill="#fff" stroke="#3a3a3a" stroke-width="0.8"/>
<circle cx="661.1" cy="8.1" r="2.2" fill="#7cc24a"/>
<rect x="658.9" y="11.9" width="4.4" height="4.4" fill="#56adee"/>
<path d="M661.1,18.0 L663.5,22.2 L658.7,22.2 Z" fill="#ecb93a"/>
<text x="665.6" y="9.9" font-size="5.3" font-weight="bold" fill="#222" textLength="8.8" lengthAdjust="spacingAndGlyphs">CGI</text>
<text x="665.6" y="15.9" font-size="5.3" font-weight="bold" fill="#222" textLength="10.2" lengthAdjust="spacingAndGlyphs">CGII</text>
<text x="665.6" y="22.0" font-size="5.3" font-weight="bold" fill="#222" textLength="7.6" lengthAdjust="spacingAndGlyphs">CG</text>
<text x="545.30" y="17.30" font-size="13.3" text-anchor="start" font-weight="normal" fill="#111" text-rendering="geometricPrecision"  >(d)</text>
<polyline points="23.30,253.50 36.29,249.00 46.04,249.00 52.53,233.00 62.28,249.20 68.77,249.20 72.02,255.00 75.27,247.40 78.52,239.30 85.01,251.50 88.26,231.00 94.76,228.80 98.01,245.40 104.50,249.00 107.75,251.20 114.25,267.40 117.49,228.80 123.99,261.10 127.24,228.80 133.73,255.00 140.23,251.20 143.48,235.30 146.73,243.10 153.22,231.00 156.47,233.00 159.72,202.70" fill="none" stroke="#6a9ee8" stroke-width="0.6"/>
<polyline points="23.30,292.00 36.29,294.20 46.04,294.20 52.53,287.90 62.28,292.00 68.77,294.10 72.02,296.30 75.27,296.30 78.52,290.10 85.01,294.20 88.26,281.90 94.76,279.90 98.01,294.20 104.50,298.00 107.75,300.40 114.25,300.40 117.49,279.90 123.99,298.00 127.24,292.00 133.73,296.30 140.23,294.20 143.48,287.90 146.73,298.00 153.22,287.90 156.47,286.00 159.72,245.40" fill="none" stroke="#5068e8" stroke-width="0.6"/>
<rect x="21.30" y="251.50" width="4.0" height="4.0" fill="#4a8ee6"/>
<rect x="34.29" y="247.00" width="4.0" height="4.0" fill="#4a8ee6"/>
<rect x="44.04" y="247.00" width="4.0" height="4.0" fill="#4a8ee6"/>
<rect x="50.53" y="231.00" width="4.0" height="4.0" fill="#4a8ee6"/>
<rect x="60.28" y="247.20" width="4.0" height="4.0" fill="#4a8ee6"/>
<rect x="66.77" y="247.20" width="4.0" height="4.0" fill="#4a8ee6"/>
<rect x="70.02" y="253.00" width="4.0" height="4.0" fill="#4a8ee6"/>
<rect x="73.27" y="245.40" width="4.0" height="4.0" fill="#4a8ee6"/>
<rect x="76.52" y="237.30" width="4.0" height="4.0" fill="#4a8ee6"/>
<rect x="83.01" y="249.50" width="4.0" height="4.0" fill="#4a8ee6"/>
<rect x="86.26" y="229.00" width="4.0" height="4.0" fill="#4a8ee6"/>
<rect x="92.76" y="226.80" width="4.0" height="4.0" fill="#4a8ee6"/>
<rect x="96.01" y="243.40" width="4.0" height="4.0" fill="#4a8ee6"/>
<rect x="102.50" y="247.00" width="4.0" height="4.0" fill="#4a8ee6"/>
<rect x="105.75" y="249.20" width="4.0" height="4.0" fill="#4a8ee6"/>
<rect x="112.25" y="265.40" width="4.0" height="4.0" fill="#4a8ee6"/>
<rect x="115.49" y="226.80" width="4.0" height="4.0" fill="#4a8ee6"/>
<rect x="121.99" y="259.10" width="4.0" height="4.0" fill="#4a8ee6"/>
<rect x="125.24" y="226.80" width="4.0" height="4.0" fill="#4a8ee6"/>
<rect x="131.73" y="253.00" width="4.0" height="4.0" fill="#4a8ee6"/>
<rect x="138.23" y="249.20" width="4.0" height="4.0" fill="#4a8ee6"/>
<rect x="141.48" y="233.30" width="4.0" height="4.0" fill="#4a8ee6"/>
<rect x="144.73" y="241.10" width="4.0" height="4.0" fill="#4a8ee6"/>
<rect x="151.22" y="229.00" width="4.0" height="4.0" fill="#4a8ee6"/>
<rect x="154.47" y="231.00" width="4.0" height="4.0" fill="#4a8ee6"/>
<rect x="157.72" y="200.70" width="4.0" height="4.0" fill="#4a8ee6"/>
<circle cx="23.30" cy="292.00" r="2.35" fill="#3a55e0"/>
<circle cx="36.29" cy="294.20" r="2.35" fill="#3a55e0"/>
<circle cx="46.04" cy="294.20" r="2.35" fill="#3a55e0"/>
<circle cx="52.53" cy="287.90" r="2.35" fill="#3a55e0"/>
<circle cx="62.28" cy="292.00" r="2.35" fill="#3a55e0"/>
<circle cx="68.77" cy="294.10" r="2.35" fill="#3a55e0"/>
<circle cx="72.02" cy="296.30" r="2.35" fill="#3a55e0"/>
<circle cx="75.27" cy="296.30" r="2.35" fill="#3a55e0"/>
<circle cx="78.52" cy="290.10" r="2.35" fill="#3a55e0"/>
<circle cx="85.01" cy="294.20" r="2.35" fill="#3a55e0"/>
<circle cx="88.26" cy="281.90" r="2.35" fill="#3a55e0"/>
<circle cx="94.76" cy="279.90" r="2.35" fill="#3a55e0"/>
<circle cx="98.01" cy="294.20" r="2.35" fill="#3a55e0"/>
<circle cx="104.50" cy="298.00" r="2.35" fill="#3a55e0"/>
<circle cx="107.75" cy="300.40" r="2.35" fill="#3a55e0"/>
<circle cx="114.25" cy="300.40" r="2.35" fill="#3a55e0"/>
<circle cx="117.49" cy="279.90" r="2.35" fill="#3a55e0"/>
<circle cx="123.99" cy="298.00" r="2.35" fill="#3a55e0"/>
<circle cx="127.24" cy="292.00" r="2.35" fill="#3a55e0"/>
<circle cx="133.73" cy="296.30" r="2.35" fill="#3a55e0"/>
<circle cx="140.23" cy="294.20" r="2.35" fill="#3a55e0"/>
<circle cx="143.48" cy="287.90" r="2.35" fill="#3a55e0"/>
<circle cx="146.73" cy="298.00" r="2.35" fill="#3a55e0"/>
<circle cx="153.22" cy="287.90" r="2.35" fill="#3a55e0"/>
<circle cx="156.47" cy="286.00" r="2.35" fill="#3a55e0"/>
<circle cx="159.72" cy="245.40" r="2.35" fill="#3a55e0"/>
<rect x="20.40" y="182.30" width="152.00" height="152.00" fill="none" stroke="#3a3a3a" stroke-width="1.0"/>
<line x1="18.00" y1="334.20" x2="20.40" y2="334.20" stroke="#3a3a3a" stroke-width="1.0" />
<text x="17.40" y="336.55" font-size="6.9" text-anchor="end" font-weight="bold" fill="#111" stroke="#111" stroke-width="0.18" text-rendering="geometricPrecision">0.0</text>
<line x1="18.00" y1="293.80" x2="20.40" y2="293.80" stroke="#3a3a3a" stroke-width="1.0" />
<text x="17.40" y="296.15" font-size="6.9" text-anchor="end" font-weight="bold" fill="#111" stroke="#111" stroke-width="0.18" text-rendering="geometricPrecision">0.2</text>
<line x1="18.00" y1="253.40" x2="20.40" y2="253.40" stroke="#3a3a3a" stroke-width="1.0" />
<text x="17.40" y="255.75" font-size="6.9" text-anchor="end" font-weight="bold" fill="#111" stroke="#111" stroke-width="0.18" text-rendering="geometricPrecision">0.4</text>
<line x1="18.00" y1="213.00" x2="20.40" y2="213.00" stroke="#3a3a3a" stroke-width="1.0" />
<text x="17.40" y="215.35" font-size="6.9" text-anchor="end" font-weight="bold" fill="#111" stroke="#111" stroke-width="0.18" text-rendering="geometricPrecision">0.6</text>
<line x1="18.80" y1="314.00" x2="20.40" y2="314.00" stroke="#3a3a3a" stroke-width="1.0" />
<line x1="18.80" y1="273.60" x2="20.40" y2="273.60" stroke="#3a3a3a" stroke-width="1.0" />
<line x1="18.80" y1="233.20" x2="20.40" y2="233.20" stroke="#3a3a3a" stroke-width="1.0" />
<line x1="18.80" y1="192.80" x2="20.40" y2="192.80" stroke="#3a3a3a" stroke-width="1.0" />
<line x1="26.55" y1="334.30" x2="26.55" y2="336.50" stroke="#3a3a3a" stroke-width="1.0" />
<text x="26.55" y="344.10" font-size="6.9" text-anchor="middle" font-weight="bold" fill="#111" stroke="#111" stroke-width="0.18" text-rendering="geometricPrecision">1980</text>
<line x1="59.03" y1="334.30" x2="59.03" y2="336.50" stroke="#3a3a3a" stroke-width="1.0" />
<text x="59.03" y="344.10" font-size="6.9" text-anchor="middle" font-weight="bold" fill="#111" stroke="#111" stroke-width="0.18" text-rendering="geometricPrecision">1990</text>
<line x1="91.51" y1="334.30" x2="91.51" y2="336.50" stroke="#3a3a3a" stroke-width="1.0" />
<text x="91.51" y="344.10" font-size="6.9" text-anchor="middle" font-weight="bold" fill="#111" stroke="#111" stroke-width="0.18" text-rendering="geometricPrecision">2000</text>
<line x1="123.99" y1="334.30" x2="123.99" y2="336.50" stroke="#3a3a3a" stroke-width="1.0" />
<text x="123.99" y="344.10" font-size="6.9" text-anchor="middle" font-weight="bold" fill="#111" stroke="#111" stroke-width="0.18" text-rendering="geometricPrecision">2010</text>
<line x1="156.47" y1="334.30" x2="156.47" y2="336.50" stroke="#3a3a3a" stroke-width="1.0" />
<text x="156.47" y="344.10" font-size="6.9" text-anchor="middle" font-weight="bold" fill="#111" stroke="#111" stroke-width="0.18" text-rendering="geometricPrecision">2020</text>
<text x="0" y="0" transform="translate(7.00,256.30) rotate(-90)" font-size="7.5" text-anchor="middle" font-weight="bold" fill="#111" stroke="#111" stroke-width="0.18" text-rendering="geometricPrecision">Robustness</text>
<text x="96.50" y="352.90" font-size="7.6" text-anchor="middle" font-weight="bold" fill="#111" text-rendering="geometricPrecision"   stroke="#111" stroke-width="0.18">Year</text>
<rect x="23.2" y="185.3" width="61.4" height="14.5" fill="#fff" stroke="#333" stroke-width="0.8"/>
<circle cx="26.9" cy="188.8" r="2.15" fill="#3a55e0"/>
<rect x="24.8" y="192.6" width="4.2" height="4.2" fill="#4a8ee6"/>
<text x="31.9" y="190.6" font-size="4.9" fill="#222" textLength="49" lengthAdjust="spacingAndGlyphs">Proportion removed (50%)</text>
<text x="31.9" y="196.5" font-size="4.9" fill="#222" textLength="49" lengthAdjust="spacingAndGlyphs">Proportion removed (25%)</text>
<text x="139.10" y="197.00" font-size="13.2" text-anchor="start" font-weight="normal" fill="#111" text-rendering="geometricPrecision"  >(e)</text>
<line x1="186.90" y1="218.10" x2="323.50" y2="258.50" stroke="#e0452c" stroke-width="1.4" />
<line x1="186.90" y1="304.60" x2="323.30" y2="303.10" stroke="#f28a2a" stroke-width="1.4" />
<circle cx="188.08" cy="213.00" r="1.9" fill="#e0452c"/>
<circle cx="200.96" cy="223.60" r="1.9" fill="#e0452c"/>
<circle cx="210.61" cy="217.30" r="1.9" fill="#e0452c"/>
<circle cx="217.05" cy="238.70" r="1.9" fill="#e0452c"/>
<circle cx="226.71" cy="235.30" r="1.9" fill="#e0452c"/>
<circle cx="233.15" cy="242.00" r="1.9" fill="#e0452c"/>
<circle cx="236.37" cy="247.20" r="1.9" fill="#e0452c"/>
<circle cx="239.59" cy="263.40" r="1.9" fill="#e0452c"/>
<circle cx="242.80" cy="243.80" r="1.9" fill="#e0452c"/>
<circle cx="249.24" cy="230.30" r="1.9" fill="#e0452c"/>
<circle cx="252.46" cy="209.90" r="1.9" fill="#e0452c"/>
<circle cx="258.90" cy="205.60" r="1.9" fill="#e0452c"/>
<circle cx="262.12" cy="244.70" r="1.9" fill="#e0452c"/>
<circle cx="268.56" cy="257.30" r="1.9" fill="#e0452c"/>
<circle cx="271.77" cy="242.20" r="1.9" fill="#e0452c"/>
<circle cx="278.21" cy="246.50" r="1.9" fill="#e0452c"/>
<circle cx="281.43" cy="244.90" r="1.9" fill="#e0452c"/>
<circle cx="287.87" cy="201.80" r="1.9" fill="#e0452c"/>
<circle cx="291.09" cy="253.30" r="1.9" fill="#e0452c"/>
<circle cx="297.53" cy="238.20" r="1.9" fill="#e0452c"/>
<circle cx="303.97" cy="268.50" r="1.9" fill="#e0452c"/>
<circle cx="307.18" cy="257.30" r="1.9" fill="#e0452c"/>
<circle cx="310.40" cy="269.20" r="1.9" fill="#e0452c"/>
<circle cx="316.84" cy="273.70" r="1.9" fill="#e0452c"/>
<circle cx="320.06" cy="266.70" r="1.9" fill="#e0452c"/>
<circle cx="323.28" cy="252.40" r="1.9" fill="#e0452c"/>
<rect x="186.28" y="303.00" width="3.6" height="3.6" fill="#f28a2a"/>
<rect x="199.16" y="303.70" width="3.6" height="3.6" fill="#f28a2a"/>
<rect x="208.81" y="304.50" width="3.6" height="3.6" fill="#f28a2a"/>
<rect x="215.25" y="299.00" width="3.6" height="3.6" fill="#f28a2a"/>
<rect x="224.91" y="299.50" width="3.6" height="3.6" fill="#f28a2a"/>
<rect x="231.35" y="300.20" width="3.6" height="3.6" fill="#f28a2a"/>
<rect x="234.57" y="300.20" width="3.6" height="3.6" fill="#f28a2a"/>
<rect x="237.78" y="300.20" width="3.6" height="3.6" fill="#f28a2a"/>
<rect x="241.00" y="302.50" width="3.6" height="3.6" fill="#f28a2a"/>
<rect x="247.44" y="303.90" width="3.6" height="3.6" fill="#f28a2a"/>
<rect x="250.66" y="304.10" width="3.6" height="3.6" fill="#f28a2a"/>
<rect x="257.10" y="301.60" width="3.6" height="3.6" fill="#f28a2a"/>
<rect x="260.32" y="300.00" width="3.6" height="3.6" fill="#f28a2a"/>
<rect x="266.76" y="301.00" width="3.6" height="3.6" fill="#f28a2a"/>
<rect x="269.97" y="304.10" width="3.6" height="3.6" fill="#f28a2a"/>
<rect x="276.41" y="305.60" width="3.6" height="3.6" fill="#f28a2a"/>
<rect x="279.63" y="301.80" width="3.6" height="3.6" fill="#f28a2a"/>
<rect x="286.07" y="311.10" width="3.6" height="3.6" fill="#f28a2a"/>
<rect x="289.29" y="305.60" width="3.6" height="3.6" fill="#f28a2a"/>
<rect x="295.73" y="305.40" width="3.6" height="3.6" fill="#f28a2a"/>
<rect x="302.17" y="299.20" width="3.6" height="3.6" fill="#f28a2a"/>
<rect x="305.38" y="299.20" width="3.6" height="3.6" fill="#f28a2a"/>
<rect x="308.60" y="299.50" width="3.6" height="3.6" fill="#f28a2a"/>
<rect x="315.04" y="298.10" width="3.6" height="3.6" fill="#f28a2a"/>
<rect x="318.26" y="298.30" width="3.6" height="3.6" fill="#f28a2a"/>
<rect x="321.48" y="300.20" width="3.6" height="3.6" fill="#f28a2a"/>
<rect x="184.40" y="183.40" width="151.60" height="151.50" fill="none" stroke="#3a3a3a" stroke-width="1.0"/>
<line x1="182.00" y1="334.70" x2="184.40" y2="334.70" stroke="#3a3a3a" stroke-width="1.0" />
<text x="181.40" y="337.05" font-size="6.9" text-anchor="end" font-weight="bold" fill="#111" stroke="#111" stroke-width="0.18" text-rendering="geometricPrecision">0</text>
<line x1="182.00" y1="296.90" x2="184.40" y2="296.90" stroke="#3a3a3a" stroke-width="1.0" />
<text x="181.40" y="299.25" font-size="6.9" text-anchor="end" font-weight="bold" fill="#111" stroke="#111" stroke-width="0.18" text-rendering="geometricPrecision">1</text>
<line x1="182.00" y1="259.10" x2="184.40" y2="259.10" stroke="#3a3a3a" stroke-width="1.0" />
<text x="181.40" y="261.45" font-size="6.9" text-anchor="end" font-weight="bold" fill="#111" stroke="#111" stroke-width="0.18" text-rendering="geometricPrecision">2</text>
<line x1="182.00" y1="221.30" x2="184.40" y2="221.30" stroke="#3a3a3a" stroke-width="1.0" />
<text x="181.40" y="223.65" font-size="6.9" text-anchor="end" font-weight="bold" fill="#111" stroke="#111" stroke-width="0.18" text-rendering="geometricPrecision">3</text>
<line x1="182.00" y1="183.50" x2="184.40" y2="183.50" stroke="#3a3a3a" stroke-width="1.0" />
<text x="181.40" y="185.85" font-size="6.9" text-anchor="end" font-weight="bold" fill="#111" stroke="#111" stroke-width="0.18" text-rendering="geometricPrecision">4</text>
<line x1="191.30" y1="334.90" x2="191.30" y2="337.10" stroke="#3a3a3a" stroke-width="1.0" />
<text x="191.30" y="344.60" font-size="6.9" text-anchor="middle" font-weight="bold" fill="#111" stroke="#111" stroke-width="0.18" text-rendering="geometricPrecision">1980</text>
<line x1="223.49" y1="334.90" x2="223.49" y2="337.10" stroke="#3a3a3a" stroke-width="1.0" />
<text x="223.49" y="344.60" font-size="6.9" text-anchor="middle" font-weight="bold" fill="#111" stroke="#111" stroke-width="0.18" text-rendering="geometricPrecision">1990</text>
<line x1="255.68" y1="334.90" x2="255.68" y2="337.10" stroke="#3a3a3a" stroke-width="1.0" />
<text x="255.68" y="344.60" font-size="6.9" text-anchor="middle" font-weight="bold" fill="#111" stroke="#111" stroke-width="0.18" text-rendering="geometricPrecision">2000</text>
<line x1="287.87" y1="334.90" x2="287.87" y2="337.10" stroke="#3a3a3a" stroke-width="1.0" />
<text x="287.87" y="344.60" font-size="6.9" text-anchor="middle" font-weight="bold" fill="#111" stroke="#111" stroke-width="0.18" text-rendering="geometricPrecision">2010</text>
<line x1="320.06" y1="334.90" x2="320.06" y2="337.10" stroke="#3a3a3a" stroke-width="1.0" />
<text x="320.06" y="344.60" font-size="6.9" text-anchor="middle" font-weight="bold" fill="#111" stroke="#111" stroke-width="0.18" text-rendering="geometricPrecision">2020</text>
<text x="261.00" y="352.60" font-size="7.6" text-anchor="middle" font-weight="bold" fill="#111" text-rendering="geometricPrecision"   stroke="#111" stroke-width="0.18">Year</text>
<rect x="292.2" y="187.1" width="41.4" height="16.2" fill="#fff" stroke="#333" stroke-width="0.8"/>
<line x1="293.60" y1="190.90" x2="300.00" y2="190.90" stroke="#e0452c" stroke-width="0.9" />
<circle cx="296.8" cy="190.9" r="1.7" fill="#e0452c"/>
<line x1="293.60" y1="197.90" x2="300.00" y2="197.90" stroke="#f28a2a" stroke-width="0.9" />
<circle cx="296.8" cy="197.9" r="1.8" fill="#f28a2a"/>
<text x="301.9" y="192.6" font-size="5.0" font-family="Liberation Sans" font-style="italic" fill="#222" textLength="29.9" lengthAdjust="spacingAndGlyphs">Average degree</text>
<text x="301.9" y="199.6" font-size="5.0" font-family="Liberation Sans" fill="#222" textLength="21.5" lengthAdjust="spacingAndGlyphs">Modularity</text>
<text x="194.80" y="196.60" font-size="13.3" text-anchor="start" font-weight="normal" fill="#111" text-rendering="geometricPrecision"  >(f)</text>
<polyline points="360.70,336.00 373.69,318.90 383.42,321.30 389.91,302.00 399.64,306.50 406.13,303.80 409.38,304.50 412.62,303.40 415.87,302.70 422.36,304.50 425.61,286.30 432.09,274.20 435.34,275.30 441.83,273.50 445.07,269.70 451.56,266.70 454.81,260.00 461.30,260.00 464.54,261.80 471.03,263.40 477.52,265.20 480.77,265.80 484.01,265.20 490.50,266.30 493.75,266.30 497.00,211.70" fill="none" stroke="#5068e8" stroke-width="0.6"/>
<circle cx="360.70" cy="336.00" r="2.35" fill="#3a55e0"/>
<circle cx="373.69" cy="318.90" r="2.35" fill="#3a55e0"/>
<circle cx="383.42" cy="321.30" r="2.35" fill="#3a55e0"/>
<circle cx="389.91" cy="302.00" r="2.35" fill="#3a55e0"/>
<circle cx="399.64" cy="306.50" r="2.35" fill="#3a55e0"/>
<circle cx="406.13" cy="303.80" r="2.35" fill="#3a55e0"/>
<circle cx="409.38" cy="304.50" r="2.35" fill="#3a55e0"/>
<circle cx="412.62" cy="303.40" r="2.35" fill="#3a55e0"/>
<circle cx="415.87" cy="302.70" r="2.35" fill="#3a55e0"/>
<circle cx="422.36" cy="304.50" r="2.35" fill="#3a55e0"/>
<circle cx="425.61" cy="286.30" r="2.35" fill="#3a55e0"/>
<circle cx="432.09" cy="274.20" r="2.35" fill="#3a55e0"/>
<circle cx="435.34" cy="275.30" r="2.35" fill="#3a55e0"/>
<circle cx="441.83" cy="273.50" r="2.35" fill="#3a55e0"/>
<circle cx="445.07" cy="269.70" r="2.35" fill="#3a55e0"/>
<circle cx="451.56" cy="266.70" r="2.35" fill="#3a55e0"/>
<circle cx="454.81" cy="260.00" r="2.35" fill="#3a55e0"/>
<circle cx="461.30" cy="260.00" r="2.35" fill="#3a55e0"/>
<circle cx="464.54" cy="261.80" r="2.35" fill="#3a55e0"/>
<circle cx="471.03" cy="263.40" r="2.35" fill="#3a55e0"/>
<circle cx="477.52" cy="265.20" r="2.35" fill="#3a55e0"/>
<circle cx="480.77" cy="265.80" r="2.35" fill="#3a55e0"/>
<circle cx="484.01" cy="265.20" r="2.35" fill="#3a55e0"/>
<circle cx="490.50" cy="266.30" r="2.35" fill="#3a55e0"/>
<circle cx="493.75" cy="266.30" r="2.35" fill="#3a55e0"/>
<circle cx="497.00" cy="211.70" r="2.35" fill="#3a55e0"/>
<rect x="357.50" y="183.30" width="152.20" height="152.80" fill="none" stroke="#3a3a3a" stroke-width="1.0"/>
<line x1="355.10" y1="336.20" x2="357.50" y2="336.20" stroke="#3a3a3a" stroke-width="1.0" />
<text x="354.50" y="338.55" font-size="6.9" text-anchor="end" font-weight="bold" fill="#111" stroke="#111" stroke-width="0.18" text-rendering="geometricPrecision">0.0</text>
<line x1="355.10" y1="285.50" x2="357.50" y2="285.50" stroke="#3a3a3a" stroke-width="1.0" />
<text x="354.50" y="287.85" font-size="6.9" text-anchor="end" font-weight="bold" fill="#111" stroke="#111" stroke-width="0.18" text-rendering="geometricPrecision">0.1</text>
<line x1="355.10" y1="234.80" x2="357.50" y2="234.80" stroke="#3a3a3a" stroke-width="1.0" />
<text x="354.50" y="237.15" font-size="6.9" text-anchor="end" font-weight="bold" fill="#111" stroke="#111" stroke-width="0.18" text-rendering="geometricPrecision">0.2</text>
<line x1="355.10" y1="184.10" x2="357.50" y2="184.10" stroke="#3a3a3a" stroke-width="1.0" />
<text x="354.50" y="186.45" font-size="6.9" text-anchor="end" font-weight="bold" fill="#111" stroke="#111" stroke-width="0.18" text-rendering="geometricPrecision">0.3</text>
<line x1="355.90" y1="310.85" x2="357.50" y2="310.85" stroke="#3a3a3a" stroke-width="1.0" />
<line x1="355.90" y1="260.15" x2="357.50" y2="260.15" stroke="#3a3a3a" stroke-width="1.0" />
<line x1="355.90" y1="209.45" x2="357.50" y2="209.45" stroke="#3a3a3a" stroke-width="1.0" />
<line x1="363.95" y1="336.10" x2="363.95" y2="338.30" stroke="#3a3a3a" stroke-width="1.0" />
<text x="363.95" y="345.50" font-size="6.9" text-anchor="middle" font-weight="bold" fill="#111" stroke="#111" stroke-width="0.18" text-rendering="geometricPrecision">1980</text>
<line x1="396.40" y1="336.10" x2="396.40" y2="338.30" stroke="#3a3a3a" stroke-width="1.0" />
<text x="396.40" y="345.50" font-size="6.9" text-anchor="middle" font-weight="bold" fill="#111" stroke="#111" stroke-width="0.18" text-rendering="geometricPrecision">1990</text>
<line x1="428.85" y1="336.10" x2="428.85" y2="338.30" stroke="#3a3a3a" stroke-width="1.0" />
<text x="428.85" y="345.50" font-size="6.9" text-anchor="middle" font-weight="bold" fill="#111" stroke="#111" stroke-width="0.18" text-rendering="geometricPrecision">2000</text>
<line x1="461.30" y1="336.10" x2="461.30" y2="338.30" stroke="#3a3a3a" stroke-width="1.0" />
<text x="461.30" y="345.50" font-size="6.9" text-anchor="middle" font-weight="bold" fill="#111" stroke="#111" stroke-width="0.18" text-rendering="geometricPrecision">2010</text>
<line x1="493.75" y1="336.10" x2="493.75" y2="338.30" stroke="#3a3a3a" stroke-width="1.0" />
<text x="493.75" y="345.50" font-size="6.9" text-anchor="middle" font-weight="bold" fill="#111" stroke="#111" stroke-width="0.18" text-rendering="geometricPrecision">2020</text>
<text x="0" y="0" transform="translate(346.40,252.90) rotate(-90)" font-size="7.3" text-anchor="middle" font-weight="bold" fill="#111" stroke="#111" stroke-width="0.18" text-rendering="geometricPrecision">CV</text>
<text x="433.50" y="354.40" font-size="7.6" text-anchor="middle" font-weight="bold" fill="#111" text-rendering="geometricPrecision"   stroke="#111" stroke-width="0.18">Year</text>
<text x="368.50" y="196.20" font-size="13.2" text-anchor="start" font-weight="normal" fill="#111" text-rendering="geometricPrecision"  >(g)</text>
<circle cx="530.65" cy="335.50" r="2.2" fill="#b450f0"/>
<circle cx="543.65" cy="335.50" r="2.2" fill="#b450f0"/>
<circle cx="553.40" cy="335.50" r="2.2" fill="#b450f0"/>
<circle cx="559.90" cy="335.50" r="2.2" fill="#b450f0"/>
<circle cx="569.65" cy="335.50" r="2.2" fill="#b450f0"/>
<circle cx="576.15" cy="335.50" r="2.2" fill="#b450f0"/>
<circle cx="579.40" cy="335.50" r="2.2" fill="#b450f0"/>
<circle cx="582.65" cy="335.50" r="2.2" fill="#b450f0"/>
<circle cx="585.90" cy="335.50" r="2.2" fill="#b450f0"/>
<circle cx="592.40" cy="335.50" r="2.2" fill="#b450f0"/>
<circle cx="595.65" cy="335.50" r="2.2" fill="#b450f0"/>
<circle cx="602.15" cy="335.50" r="2.2" fill="#b450f0"/>
<circle cx="605.40" cy="274.10" r="2.2" fill="#b450f0"/>
<circle cx="611.90" cy="274.10" r="2.2" fill="#b450f0"/>
<circle cx="615.15" cy="274.10" r="2.2" fill="#b450f0"/>
<circle cx="621.65" cy="212.70" r="2.2" fill="#b450f0"/>
<circle cx="624.90" cy="274.10" r="2.2" fill="#b450f0"/>
<circle cx="631.40" cy="212.70" r="2.2" fill="#b450f0"/>
<circle cx="634.65" cy="335.50" r="2.2" fill="#b450f0"/>
<circle cx="641.15" cy="212.70" r="2.2" fill="#b450f0"/>
<circle cx="647.65" cy="212.70" r="2.2" fill="#b450f0"/>
<circle cx="650.90" cy="335.50" r="2.2" fill="#b450f0"/>
<circle cx="654.15" cy="274.10" r="2.2" fill="#b450f0"/>
<circle cx="660.65" cy="335.50" r="2.2" fill="#b450f0"/>
<circle cx="663.90" cy="274.10" r="2.2" fill="#b450f0"/>
<circle cx="667.15" cy="335.50" r="2.2" fill="#b450f0"/>
<rect x="527.30" y="182.00" width="153.00" height="153.50" fill="none" stroke="#3a3a3a" stroke-width="1.0"/>
<line x1="524.90" y1="335.50" x2="527.30" y2="335.50" stroke="#3a3a3a" stroke-width="1.0" />
<text x="524.30" y="337.85" font-size="6.9" text-anchor="end" font-weight="bold" fill="#111" stroke="#111" stroke-width="0.18" text-rendering="geometricPrecision">0</text>
<line x1="524.90" y1="304.80" x2="527.30" y2="304.80" stroke="#3a3a3a" stroke-width="1.0" />
<text x="524.30" y="307.15" font-size="6.9" text-anchor="end" font-weight="bold" fill="#111" stroke="#111" stroke-width="0.18" text-rendering="geometricPrecision">1</text>
<line x1="524.90" y1="274.10" x2="527.30" y2="274.10" stroke="#3a3a3a" stroke-width="1.0" />
<text x="524.30" y="276.45" font-size="6.9" text-anchor="end" font-weight="bold" fill="#111" stroke="#111" stroke-width="0.18" text-rendering="geometricPrecision">2</text>
<line x1="524.90" y1="243.40" x2="527.30" y2="243.40" stroke="#3a3a3a" stroke-width="1.0" />
<text x="524.30" y="245.75" font-size="6.9" text-anchor="end" font-weight="bold" fill="#111" stroke="#111" stroke-width="0.18" text-rendering="geometricPrecision">3</text>
<line x1="524.90" y1="212.70" x2="527.30" y2="212.70" stroke="#3a3a3a" stroke-width="1.0" />
<text x="524.30" y="215.05" font-size="6.9" text-anchor="end" font-weight="bold" fill="#111" stroke="#111" stroke-width="0.18" text-rendering="geometricPrecision">4</text>
<line x1="524.90" y1="182.00" x2="527.30" y2="182.00" stroke="#3a3a3a" stroke-width="1.0" />
<text x="524.30" y="184.35" font-size="6.9" text-anchor="end" font-weight="bold" fill="#111" stroke="#111" stroke-width="0.18" text-rendering="geometricPrecision">5</text>
<line x1="533.90" y1="335.50" x2="533.90" y2="337.70" stroke="#3a3a3a" stroke-width="1.0" />
<text x="533.90" y="345.30" font-size="6.9" text-anchor="middle" font-weight="bold" fill="#111" stroke="#111" stroke-width="0.18" text-rendering="geometricPrecision">1980</text>
<line x1="566.40" y1="335.50" x2="566.40" y2="337.70" stroke="#3a3a3a" stroke-width="1.0" />
<text x="566.40" y="345.30" font-size="6.9" text-anchor="middle" font-weight="bold" fill="#111" stroke="#111" stroke-width="0.18" text-rendering="geometricPrecision">1990</text>
<line x1="598.90" y1="335.50" x2="598.90" y2="337.70" stroke="#3a3a3a" stroke-width="1.0" />
<text x="598.90" y="345.30" font-size="6.9" text-anchor="middle" font-weight="bold" fill="#111" stroke="#111" stroke-width="0.18" text-rendering="geometricPrecision">2000</text>
<line x1="631.40" y1="335.50" x2="631.40" y2="337.70" stroke="#3a3a3a" stroke-width="1.0" />
<text x="631.40" y="345.30" font-size="6.9" text-anchor="middle" font-weight="bold" fill="#111" stroke="#111" stroke-width="0.18" text-rendering="geometricPrecision">2010</text>
<line x1="663.90" y1="335.50" x2="663.90" y2="337.70" stroke="#3a3a3a" stroke-width="1.0" />
<text x="663.90" y="345.30" font-size="6.9" text-anchor="middle" font-weight="bold" fill="#111" stroke="#111" stroke-width="0.18" text-rendering="geometricPrecision">2020</text>
<text x="0" y="0" transform="translate(518.40,256.80) rotate(-90)" font-size="7.4" text-anchor="middle" font-weight="bold" fill="#111" stroke="#111" stroke-width="0.18" text-rendering="geometricPrecision">Negative numbers</text>
<text x="604.30" y="354.70" font-size="7.4" text-anchor="middle" font-weight="bold" fill="#111" text-rendering="geometricPrecision"   stroke="#111" stroke-width="0.18">Year</text>
<text x="536.30" y="196.20" font-size="13.2" text-anchor="start" font-weight="normal" fill="#111" text-rendering="geometricPrecision"  >(h)</text>
</svg></div>
</body></html>
